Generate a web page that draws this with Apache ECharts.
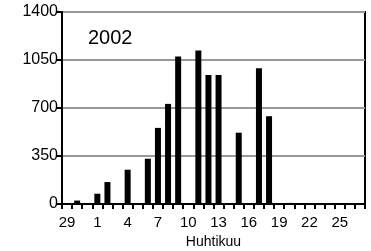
<!DOCTYPE html>
<html>
<head>
<meta charset="utf-8">
<script src="https://cdn.jsdelivr.net/npm/echarts@6/dist/echarts.min.js"></script>
<style>
  html, body { margin: 0; padding: 0; background: #fff; }
  #chart { width: 371px; height: 251px; }
</style>
</head>
<body>
<div id="chart"></div>
<script>
// päivät 29.3. – 27.4.
const days = ['29', '30', '31'].concat(Array.from({ length: 27 }, (_, i) => String(i + 1)));
const counts = [
  0, 25, 0,
  75, 160, 0, 250, 0, 330, 555, 730, 1075, 0,
  1120, 940, 940, 0, 520, 0, 990, 640, 0, 8,
  0, 0, 0, 0, 0, 0, 0
];
const yTicks = [0, 350, 700, 1050, 1400];
const yearLabel = '2002';
const xName = 'Huhtikuu';

const chart = echarts.init(document.getElementById('chart'));
const font = 'Liberation Sans, Arial, sans-serif';

chart.setOption({
  animation: false,
  textStyle: { fontFamily: font },
  title: {
    text: yearLabel,
    left: 83,
    top: 23,
    textStyle: { fontSize: 20, fontWeight: 'normal', color: '#000', fontFamily: font }
  },
  grid: {
    left: 62, right: 6, top: 12, bottom: 47,
    outerBoundsMode: 'none',
    containLabel: false,
    show: true, borderColor: '#000', borderWidth: 2
  },
  xAxis: {
    type: 'category',
    data: days,
    name: xName,
    nameLocation: 'middle',
    nameGap: 29,
    nameTextStyle: { fontSize: 14, color: '#000', fontFamily: font },
    axisLine: { lineStyle: { color: '#000', width: 2 } },
    axisTick: { show: true, interval: 0, length: 5, lineStyle: { color: '#000', width: 2 } },
    axisLabel: { interval: 2, fontSize: 15, color: '#000', margin: 11, fontFamily: font }
  },
  yAxis: {
    type: 'value',
    min: yTicks[0],
    max: yTicks[yTicks.length - 1],
    interval: 350,
    axisLine: { show: true, lineStyle: { color: '#000', width: 2 } },
    axisTick: { show: true, length: 6, lineStyle: { color: '#000', width: 2 } },
    axisLabel: { fontSize: 16, color: '#000', margin: 4, fontFamily: font, formatter: v => String(v) },
    splitLine: { lineStyle: { color: '#999', width: 2 } }
  },
  series: [{
    type: 'bar',
    data: counts,
    barWidth: 6,
    itemStyle: { color: '#000' }
  }]
});
</script>
</body>
</html>
